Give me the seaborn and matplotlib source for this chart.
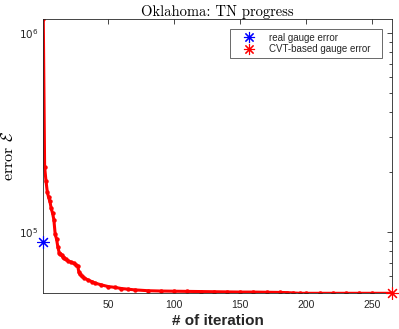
import numpy as np
import pandas as pd
import matplotlib
matplotlib.use('Agg')
import matplotlib.pyplot as plt
from matplotlib.lines import Line2D
from matplotlib.ticker import LogLocator, NullFormatter, FixedLocator, FixedFormatter
import seaborn as sns

# values
iterations = [1, 2, 3, 4, 5, 6, 7, 8, 9, 10, 11, 12, 13, 14, 15, 16, 17, 18, 20,
              22, 24, 26, 27, 28, 29, 30, 32, 35, 38, 40, 45, 50, 55, 60, 65,
              70, 80, 90, 100, 110, 120, 130, 140, 150, 160, 170, 180, 185,
              190, 195, 200, 210, 220, 230, 240, 250, 265]
errors = [1.17e6, 2.12e5, 1.81e5, 1.59e5, 1.49e5, 1.42e5, 1.31e5, 1.24e5, 1.15e5,
          9.7e4, 9.2e4, 8.4e4, 7.85e4, 7.75e4, 7.6e4, 7.45e4, 7.35e4, 7.25e4, 7.13e4,
          7.03e4, 6.95e4, 6.8e4, 6.7e4, 6.25e4, 6.1e4, 5.98e4, 5.85e4, 5.71e4, 5.6e4,
          5.52e4, 5.4e4, 5.3e4, 5.25e4, 5.18e4, 5.14e4,
          5.1e4, 5.05e4, 5.03e4, 5.02e4, 5.01e4, 5.0e4, 4.99e4, 4.98e4, 4.97e4, 4.97e4,
          4.96e4, 4.95e4, 4.94e4, 4.92e4, 4.9e4, 4.9e4, 4.9e4, 4.9e4, 4.9e4, 4.9e4,
          4.9e4, 4.9e4]
real_gauge = (1, 8.85e4)
cvt_gauge = (265, 4.9e4)

sns.set_style('white')
plt.rcParams['font.family'] = ['Liberation Sans', 'DejaVu Sans']

df = pd.DataFrame({'iteration': iterations, 'error': errors})

fig = plt.figure(figsize=(3.99, 3.29), dpi=100)
ax = fig.add_axes([0.1085, 0.1085, 0.8747, 0.8337])

sns.lineplot(data=df, x='iteration', y='error', ax=ax, color='red',
             linewidth=2.2, marker='o', markersize=3.2, markeredgewidth=0)

ast = (8, 2, 0)
ax.plot([real_gauge[0]], [real_gauge[1]], linestyle='none', marker=ast,
        color='blue', markersize=9, markeredgewidth=0.8, clip_on=False, zorder=5)
ax.plot([cvt_gauge[0]], [cvt_gauge[1]], linestyle='none', marker=ast,
        color='red', markersize=9, markeredgewidth=0.8, clip_on=False, zorder=5)

ax.set_yscale('log')
ax.set_xlim(1, 265)
ax.set_ylim(4.9e4, 1.176e6)

ax.xaxis.set_major_locator(FixedLocator([50, 100, 150, 200, 250]))
ax.yaxis.set_major_locator(FixedLocator([1e5, 1e6]))
ax.yaxis.set_major_formatter(FixedFormatter([r'$\mathsf{10^{5}}$', r'$\mathsf{10^{6}}$']))
ax.yaxis.set_minor_locator(LogLocator(base=10, subs=np.arange(2, 10)))
ax.yaxis.set_minor_formatter(NullFormatter())

gray = '#262626'
ax.tick_params(which='both', direction='in', top=True, right=True,
               colors=gray, labelcolor=gray, labelsize=7.5)
ax.tick_params(axis='x', pad=4.5)
ax.tick_params(which='major', length=3.5, width=0.6)
ax.tick_params(which='minor', length=2, width=0.6)
for s in ax.spines.values():
    s.set_color(gray)
    s.set_linewidth(0.6)

ax.set_title('Oklahoma: TN progress', fontsize=10.5, family='cmr10',
             color='black', pad=2)
ax.set_ylabel(r'error $\mathcal{E}$', fontsize=11.5, family='cmr10',
              math_fontfamily='cm', color='black', labelpad=2)
ax.set_xlabel('# of iteration', fontsize=11, fontweight='bold', color=gray, labelpad=3.5)

handles = [Line2D([], [], linestyle='none', marker=ast, color='blue', markersize=8,
                  markeredgewidth=0.8),
           Line2D([], [], linestyle='none', marker=ast, color='red', markersize=8,
                  markeredgewidth=0.8)]
leg = ax.legend(handles, ['real gauge error', 'CVT-based gauge error'],
                loc='upper left', bbox_to_anchor=(0.535, 0.5, 0.436, 0.4636),
                mode='expand', borderaxespad=0, fontsize=7,
                frameon=True, fancybox=False, handlelength=3.2, borderpad=0.36,
                labelspacing=0.2, handletextpad=0.5)
leg.get_frame().set_edgecolor(gray)
leg.get_frame().set_linewidth(0.6)

fig.savefig('out.png', dpi=100)
